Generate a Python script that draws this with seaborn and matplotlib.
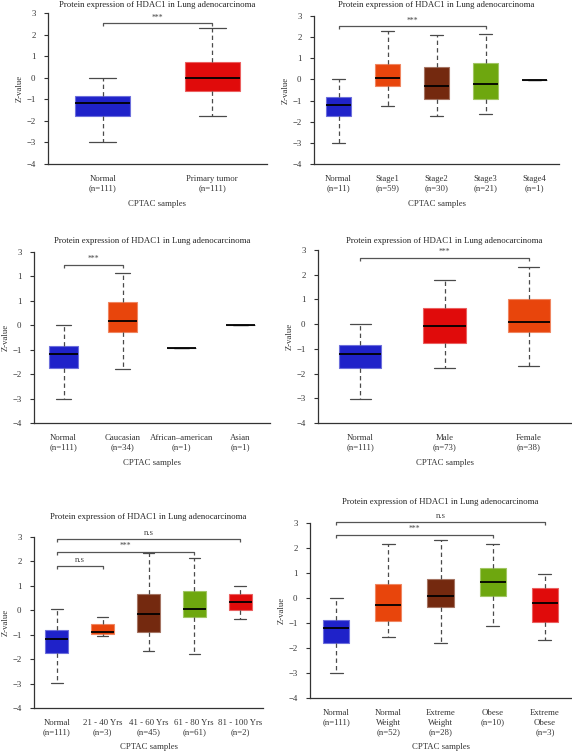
import numpy as np
import pandas as pd
import matplotlib
matplotlib.use("Agg")
import matplotlib.pyplot as plt
import seaborn as sns
from matplotlib.colors import to_rgb

sns.set_style("white")
plt.rcParams["font.family"] = ["Liberation Serif", "DejaVu Serif"]

TITLE = "Protein expression of HDAC1 in Lung adenocarcinoma"
XLABEL = "CPTAC samples"
YLABEL = "Z-value"

BLUE = "#1f22c9"
RED = "#e00b0b"
ORANGE = "#e8450c"
BROWN = "#74290f"
GREEN = "#6ea70f"
SINGLE = "#333333"

# five-number summaries: [min, q1, median, q3, max]
p1_cats = ["Normal\n(n=111)", "Primary tumor\n(n=111)"]
p1_stats = [[-3.0, -1.77, -1.18, -0.83, 0.0],
            [-1.77, -0.60, 0.0, 0.74, 2.31]]
p1_colors = [BLUE, RED]
p1_brackets = [(0, 1, 2.54, "***")]

p2_cats = ["Normal\n(n=11)", "Stage1\n(n=59)", "Stage2\n(n=30)", "Stage3\n(n=21)", "Stage4\n(n=1)"]
p2_stats = [[-3.0, -1.75, -1.21, -0.85, 0.0],
            [-1.27, -0.31, 0.06, 0.74, 2.30],
            [-1.75, -0.91, -0.31, 0.58, 2.12],
            [-1.62, -0.91, -0.20, 0.79, 2.14],
            [-0.02]]
p2_colors = [BLUE, ORANGE, BROWN, GREEN, SINGLE]
p2_brackets = [(0, 3, 2.53, "***")]

p3_cats = ["Normal\n(n=111)", "Caucasian\n(n=34)", "African\u2013american\n(n=1)", "Asian\n(n=1)"]
p3_stats = [[-3.0, -1.75, -1.19, -0.84, 0.0],
            [-1.79, -0.27, 0.19, 0.95, 2.13],
            [-0.94],
            [0.03]]
p3_colors = [BLUE, ORANGE, SINGLE, SINGLE]
p3_brackets = [(0, 1, 2.48, "***")]
p3_yticklabels = ["\u22124", "\u22123", "\u22122", "\u22121", "0", "1", "1", "3"]

p4_cats = ["Normal\n(n=111)", "Male\n(n=73)", "Female\n(n=38)"]
p4_stats = [[-3.01, -1.76, -1.19, -0.85, 0.0],
            [-1.76, -0.76, -0.09, 0.66, 1.79],
            [-1.69, -0.30, 0.07, 1.02, 2.33]]
p4_colors = [BLUE, RED, ORANGE]
p4_brackets = [(0, 2, 2.68, "***")]

p5_cats = ["Normal\n(n=111)", "21 - 40 Yrs\n(n=3)", "41 - 60 Yrs\n(n=45)", "61 - 80 Yrs\n(n=61)", "81 - 100 Yrs\n(n=2)"]
p5_stats = [[-2.96, -1.74, -1.17, -0.82, 0.04],
            [-1.05, -0.99, -0.88, -0.58, -0.29],
            [-1.67, -0.90, -0.15, 0.68, 2.35],
            [-1.77, -0.29, 0.05, 0.77, 2.15],
            [-0.34, 0.0, 0.35, 0.68, 1.0]]
p5_colors = [BLUE, ORANGE, BROWN, GREEN, RED]
p5_brackets = [(0, 1, 1.81, "n.s"), (0, 3, 2.39, "***"), (0, 4, 2.92, "n.s")]

p6_cats = ["Normal\n(n=111)", "Normal\nWeight\n(n=52)", "Extreme\nWeight\n(n=28)", "Obese\n(n=10)", "Extreme\nObese\n(n=3)"]
p6_stats = [[-3.01, -1.78, -1.20, -0.87, 0.0],
            [-1.55, -0.91, -0.29, 0.58, 2.16],
            [-1.79, -0.37, 0.07, 0.78, 2.32],
            [-1.10, 0.07, 0.63, 1.20, 2.16],
            [-1.69, -0.94, -0.21, 0.39, 0.98]]
p6_colors = [BLUE, ORANGE, BROWN, GREEN, RED]
p6_brackets = [(0, 3, 2.54, "***"), (0, 4, 3.04, "n.s")]

W, H = 572, 752
fig = plt.figure(figsize=(W / 100, H / 100), dpi=100)
FS = 6.3


def lighten(c, f=0.35):
    r, g, b = to_rgb(c)
    return (r + (1 - r) * f, g + (1 - g) * f, b + (1 - b) * f)


def panel(px, cats, stats, colors, brackets, title_y, xlabel_y, yticklabels=None):
    left, top, right, bottom = px
    aw, ah = right - left, bottom - top
    ax = fig.add_axes([left / W, 1 - bottom / H, aw / W, ah / H])
    rows = []
    for c, s in zip(cats, stats):
        for v in s:
            rows.append((c, v))
    df = pd.DataFrame(rows, columns=["cat", "z"])
    pal = dict(zip(cats, colors))
    sns.boxplot(data=df, x="cat", y="z", hue="cat", order=cats, hue_order=cats,
                palette=pal, legend=False, saturation=1, width=0.5,
                whis=(0, 100), showfliers=False, linecolor="#4a4a4a", linewidth=0.9,
                medianprops=dict(color="black", linewidth=1.3),
                whiskerprops=dict(linestyle=(0, (3.5, 2.5))),
                ax=ax)
    for patch, col in zip(ax.patches, colors):
        patch.set_edgecolor(lighten(col))
        patch.set_linewidth(0.8)
    n = len(cats)
    ax.set_xlim(-0.5, n - 0.5)
    ax.set_ylim(-4, 3)
    ax.set_yticks(range(-4, 4))
    if yticklabels is not None:
        ax.set_yticklabels(yticklabels)
    ax.set_xticks(np.arange(-0.5, n, 1.0))
    ax.set_xticklabels([])
    ax.set_xticks(range(n), minor=True)
    ax.set_xticklabels(cats, minor=True, linespacing=1.25)
    ax.tick_params(axis="x", which="minor", length=0, pad=8, labelsize=FS, colors="#333333")
    ax.tick_params(axis="x", which="major", length=3, width=0.8, color="#333333")
    ax.tick_params(axis="y", length=3, width=0.8, color="#333333", labelsize=FS,
                   labelcolor="#333333", pad=6, left=True)
    for s in ["top", "right"]:
        ax.spines[s].set_visible(False)
    for s in ["left", "bottom"]:
        ax.spines[s].set_color("#333333")
        ax.spines[s].set_linewidth(0.9)
    ax.set_xlabel(XLABEL, fontsize=FS, color="#333333")
    ax.xaxis.set_label_coords(0.5, -(xlabel_y - bottom) / ah)
    ax.xaxis.label.set_va("center")
    ax.set_ylabel(YLABEL, fontsize=FS, color="#333333")
    ax.yaxis.set_label_coords(-28 / aw, 0.5)
    ax.yaxis.label.set_va("center")
    ax.text(0.5, 1 + (top - title_y) / ah, TITLE, transform=ax.transAxes,
            ha="center", va="center", fontsize=FS, color="#222222")
    for i, j, y, txt in brackets:
        ax.plot([i, i, j, j], [y - 0.13, y, y, y - 0.13], color="#555555",
                lw=0.9, clip_on=False, solid_capstyle="butt")
        ax.text((i + j) / 2, y + 0.07, txt, ha="center", va="bottom",
                fontsize=FS if txt != "***" else 5.5, color="#444444", clip_on=False)
    return ax


panel((48, 13, 267, 164), p1_cats, p1_stats, p1_colors, p1_brackets, 5, 204)
panel((314, 16, 559, 164), p2_cats, p2_stats, p2_colors, p2_brackets, 5, 204)
panel((34, 252, 270, 423), p3_cats, p3_stats, p3_colors, p3_brackets, 241, 463, p3_yticklabels)
panel((318, 250, 571, 423), p4_cats, p4_stats, p4_colors, p4_brackets, 241, 463)
panel((34, 537, 263, 708), p5_cats, p5_stats, p5_colors, p5_brackets, 517, 747)
panel((310, 523, 571, 698), p6_cats, p6_stats, p6_colors, p6_brackets, 502, 747)

fig.savefig("out.png", dpi=100)
